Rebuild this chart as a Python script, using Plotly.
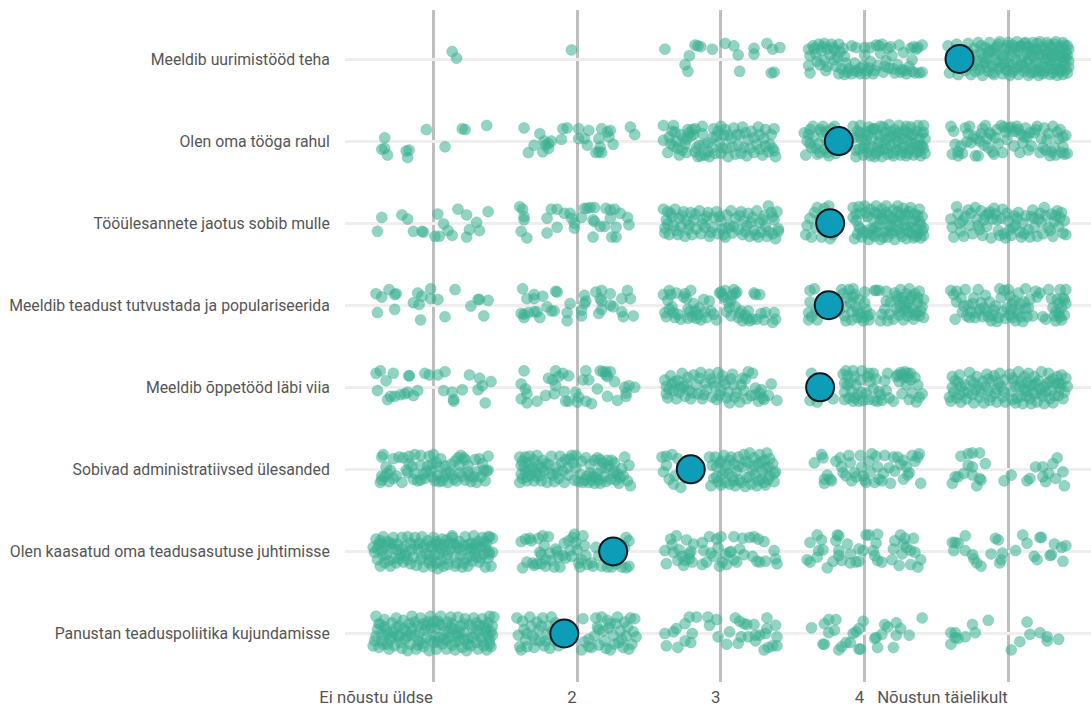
import plotly.graph_objects as go

labels = ["Panustan teaduspoliitika kujundamisse", "Olen kaasatud oma teadusasutuse juhtimisse",
          "Sobivad administratiivsed ülesanded", "Meeldib õppetööd läbi viia",
          "Meeldib teadust tutvustada ja populariseerida", "Tööülesannete jaotus sobib mulle",
          "Olen oma tööga rahul", "Meeldib uurimistööd teha"]
scale_labels = ["Ei nõustu üldse", "2", "3", "4", "Nõustun täielikult"]
means = [1.91, 2.25, 2.79, 3.69, 3.75, 3.76, 3.82, 4.66]

# Each answer: (offset from the scale value, offset from the row), in hundredths
r8c1 = [(13,9),(16,1)]
r8c2 = [(-4,11)]
r8c3 = [(-39,12),(-18,17),(-16,16),(-14,15),(-22,4),(-25,-7),(-23,-15),(-6,12),(3,19),(9,16),(12,5),(23,13),(23,6),(32,19),(36,12),(41,14),(13,-15),(35,-17),(37,-16)]
r8c4 = [(-39,12),(-38,4),(-39,-8),(-38,-17),(-36,16),(-34,6),(-33,-3),(-32,18),(-30,10),(-28,-2),(-28,19),(-26,12),(-26,-9),(-24,5),(-23,18),(-21,-1),(-21,11),(-20,-9),(-18,-18),(-18,18),(-17,9),(-16,-12),(-14,3),(-14,-19),(-13,-5),(-11,-12),(-9,-18),(-9,16),(-7,-5),(-6,14),(-5,-15),(-3,-18),(-1,-8),(0,14),(0,5),(1,-18),(3,-11),(4,14),(4,-3),(6,-18),(8,17),(9,-8),(11,7),(12,18),(13,-16),(15,-2),(17,-11),(18,15),(19,4),(21,-17),(23,-7),(24,17),(26,-13),(27,8),(29,-18),(31,-9),(32,13),(34,15),(35,-17),(37,14),(38,-17),(40,17),(40,-16),(33,-1),(-35,13),(-31,-7),(-29,15),(-27,-14),(-22,14),(-19,2),(-15,13),(-12,-16),(-7,-14),(-3,-11),(2,-14),(7,-14),(10,16),(14,-9),(16,13),(20,-12),(25,-16),(28,-14),(33,-15),(36,12)]
r8c5 = [(-42,16),(-41,-17),(-40,6),(-38,-9),(-36,18),(-35,-19),(-33,-4),(-31,11),(-30,-14),(-28,19),(-27,2),(-26,-19),(-25,-8),(-24,13),(-22,-2),(-21,20),(-20,-13),(-19,7),(-18,-20),(-17,-6),(-16,14),(-15,1),(-14,-15),(-13,20),(-12,9),(-11,-8),(-10,-19),(-9,-1),(-8,15),(-7,-12),(-6,21),(-5,5),(-4,-18),(-3,-6),(-2,13),(-1,-14),(0,20),(1,11),(1,-20),(2,-7),(3,17),(4,-13),(5,-1),(6,21),(7,10),(7,-19),(8,-8),(9,16),(10,2),(11,-15),(12,20),(13,8),(13,-4),(14,-20),(15,14),(16,-10),(17,20),(18,3),(18,-16),(19,-4),(20,12),(21,-20),(22,21),(23,-9),(23,5),(24,15),(25,-15),(26,-1),(27,20),(28,9),(29,-19),(30,-7),(30,15),(31,2),(32,-13),(33,21),(34,9),(34,-20),(35,-4),(36,15),(37,-13),(37,3),(38,20),(38,-19),(39,-7),(40,9),(41,16),(41,-17),(42,-2),(42,-10),(-23,-15),(-19,16),(-17,2),(-15,-10),(-13,11),(-11,-17),(-9,7),(-7,18),(-5,-9),(-3,4),(-1,16),(0,-5),(3,-16),(4,8),(6,-11),(8,15),(9,-2),(11,19),(12,-11),(14,0),(15,9),(16,-17),(17,12),(19,-13),(20,19),(21,-5),(22,6),(24,-18),(25,11),(26,-10),(27,2),(28,17),(29,-12),(30,6),(31,-17),(32,18),(33,-6),(35,5),(36,-15),(37,12),(38,-3),(39,17),(40,-13),(41,5),(42,12),(40,1),(-28,9),(-23,5),(-21,-8),(-16,-4),(-14,8),(-10,12),(-8,-5),(-4,1),(-2,-12),(2,4),(5,14),(10,-9),(13,15),(16,5),(19,9),(22,-14),(26,6),(29,-2),(32,7),(35,-12),(39,2)]
r7c1 = [(-34,4),(-36,-10),(-34,-9),(-32,-17),(-18,-20),(-19,-12),(-17,-11),(-5,14),(8,-7),(20,15),(22,14),(37,19)]
r7c2 = [(-37,16),(-26,9),(-30,-5),(-34,-14),(-23,0),(-18,0),(-22,-5),(-20,-3),(-24,-13),(-20,-9),(-11,2),(-10,15),(-7,16),(1,15),(1,3),(8,13),(5,3),(7,-5),(13,-14),(15,3),(17,15),(16,-7),(15,-13),(17,-14),(21,11),(23,13),(22,5),(25,-4),(37,17),(40,8)]
r7c3 = [(-40,19),(-40,1),(-37,-14),(-36,5),(-34,12),(-33,-6),(-33,19),(-31,0),(-30,-9),(-29,-17),(-28,8),(-26,3),(-25,-4),(-24,-14),(-23,14),(-22,10),(-21,6),(-20,14),(-19,8),(-18,-13),(-18,15),(-16,-19),(-15,-5),(-14,-18),(-13,18),(-12,-4),(-11,-17),(-9,-2),(-8,-19),(-6,-8),(-5,15),(-4,-15),(-3,6),(-1,-2),(0,18),(0,-15),(2,7),(3,14),(4,-9),(5,-19),(7,3),(9,16),(10,-16),(12,-5),(13,8),(15,17),(16,-8),(18,-18),(19,2),(21,12),(23,-14),(25,-4),(26,17),(27,8),(29,-17),(30,3),(31,14),(33,-13),(34,-4),(36,-9),(37,15),(37,-12),(38,-19),(-35,-3),(-32,11),(-27,-11),(-24,2),(-17,-8),(-13,9),(-9,-13),(-6,4),(-2,12),(1,-8),(5,7),(8,-7),(11,8),(14,-15),(17,10),(20,-9),(23,4),(27,-10),(31,-6),(35,8)]
r7c4 = [(-42,10),(-41,-17),(-40,0),(-38,14),(-37,-8),(-36,18),(-35,5),(-33,-16),(-32,-3),(-30,11),(-29,18),(-28,-10),(-27,2),(-25,-18),(-24,-6),(-23,15),(-22,8),(-20,-15),(-8,18),(-6,-19),(-5,12),(-4,-10),(-3,19),(-2,2),(-1,-17),(0,-4),(1,11),(2,-14),(3,17),(4,-18),(5,3),(6,-7),(7,15),(8,-15),(9,8),(10,-2),(11,18),(12,-19),(13,-10),(14,11),(15,2),(16,-16),(17,20),(18,-5),(19,7),(20,-18),(21,14),(22,-11),(23,0),(24,19),(25,-17),(26,8),(27,-6),(28,13),(29,-18),(30,1),(31,-11),(32,17),(33,7),(34,-17),(35,-3),(36,12),(37,19),(38,-12),(38,3),(39,-18),(40,9),(40,-6),(41,19),(42,-15),(42,3),(-39,8),(-34,-9),(-31,14),(-26,-14),(-21,18),(-7,4),(-6,-11),(-3,10),(-1,-8),(1,2),(3,-9),(5,14),(7,-19),(9,-8),(11,5),(13,17),(15,-9),(17,5),(19,-15),(21,-3),(23,10),(25,-9),(27,3),(29,18),(30,-15),(32,-3),(34,8),(36,-14),(39,-5),(41,11),(41,-9),(-38,-3),(-31,-14),(-27,12),(-4,6),(2,7),(6,15),(10,-12),(14,-3),(18,12),(22,6),(26,-13),(30,10),(33,-9),(37,-6)]
r7c5 = [(-40,18),(-39,-16),(-38,12),(-37,-4),(-35,-13),(-35,-18),(-33,-6),(-32,-15),(-30,16),(-28,9),(-27,18),(-26,-2),(-24,6),(-23,-18),(-21,-18),(-20,0),(-19,9),(-18,15),(-16,19),(-15,3),(-14,-8),(-13,10),(-11,-13),(-10,-16),(-9,4),(-8,14),(-5,19),(-4,-14),(-3,17),(-1,2),(0,16),(2,17),(4,-6),(5,12),(6,18),(8,-14),(9,8),(10,-2),(12,16),(13,5),(14,-11),(16,-6),(18,10),(20,18),(22,-14),(23,3),(25,16),(26,-11),(28,9),(29,-18),(31,18),(32,-8),(33,-17),(35,3),(36,14),(37,-14),(38,-7),(39,-16),(40,7),(41,-15),(-29,-1),(-22,3),(-17,-5),(-12,8),(-7,-3),(-2,11),(3,12),(7,14),(11,5),(15,10),(19,14),(24,-8),(27,2),(30,-13),(34,11),(38,5)]
r6c1 = [(-36,7),(-39,-10),(-22,10),(-18,5),(-14,-10),(-8,-10),(-7,-11),(3,11),(1,-16),(4,-16),(7,-1),(10,-9),(13,-15),(17,17),(23,10),(23,-17),(25,-8),(30,1),(32,-9),(38,14)]
r6c2 = [(-40,20),(-38,17),(-37,8),(-37,4),(-39,-10),(-35,-18),(-21,6),(-21,-12),(-14,-5),(-18,17),(-14,17),(-9,12),(-5,12),(-4,6),(-2,0),(-2,-6),(3,7),(5,18),(7,18),(12,19),(11,4),(12,2),(11,-17),(19,-4),(20,18),(23,16),(26,17),(30,12),(23,6),(24,-17),(27,-17),(27,-5),(35,7),(36,-2),(16,-4),(9,19)]
r6c3 = [(-40,17),(-39,-6),(-39,-12),(-38,4),(-37,14),(-36,-14),(-34,8),(-33,-3),(-32,17),(-30,-14),(-29,6),(-28,-4),(-26,14),(-25,-16),(-24,3),(-23,-8),(-21,13),(-20,-14),(-19,4),(-17,-7),(-15,15),(-14,-13),(-12,5),(-11,-5),(-9,13),(-8,-16),(-6,-5),(-5,7),(-3,14),(-2,-13),(0,3),(1,-7),(3,-17),(4,10),(6,-3),(7,15),(8,-12),(10,6),(12,-8),(14,14),(15,-14),(16,3),(18,-3),(19,12),(20,-16),(22,7),(23,-9),(25,15),(26,-17),(27,1),(28,-11),(30,9),(31,-4),(32,-16),(33,21),(35,13),(36,-13),(37,4),(38,-19),(39,14),(40,-7),(40,-10),(-37,-1),(-35,12),(-31,-9),(-27,9),(-22,-2),(-18,11),(-13,-1),(-10,8),(-7,-11),(-1,8),(2,-14),(5,-6),(9,-4),(13,9),(17,-10),(21,1),(24,-14),(29,4),(33,-10),(36,8)]
r6c4 = [(-41,-14),(-40,-3),(-38,6),(-37,-17),(-35,13),(-34,-5),(-33,19),(-31,6),(-30,-17),(-28,18),(-27,-9),(-25,21),(-24,-19),(-22,-14),(-8,19),(-7,-19),(-6,11),(-5,-13),(-4,20),(-3,-7),(-2,-17),(0,21),(1,13),(2,-12),(3,-20),(4,17),(5,6),(6,-7),(7,-16),(8,21),(9,11),(10,-2),(11,-20),(12,17),(13,5),(14,-11),(15,21),(16,-17),(17,9),(18,-4),(19,-12),(20,16),(21,-20),(22,3),(23,21),(24,-8),(25,10),(26,-16),(27,18),(28,-3),(29,-19),(30,10),(31,-11),(32,19),(33,1),(34,-18),(35,11),(36,-7),(37,-13),(38,17),(38,2),(39,-18),(40,-9),(41,-15),(41,-6),(-6,3),(-4,-4),(-1,-11),(2,8),(5,-14),(7,13),(9,-11),(11,5),(13,-17),(15,13),(17,-9),(19,4),(21,-9),(23,14),(25,-12),(27,4),(29,-7),(31,14),(33,-13),(35,4),(37,9),(39,-2),(-8,7),(-3,12),(4,-7),(8,-5),(12,10),(16,-3),(20,7),(24,1),(28,11),(32,-5),(36,-16),(40,8)]
r6c5 = [(-40,5),(-39,-5),(-38,-17),(-36,20),(-35,11),(-34,0),(-33,-10),(-31,-16),(-30,8),(-28,16),(-27,-3),(-25,-13),(-23,19),(-22,5),(-20,-8),(-19,15),(-18,-15),(-16,9),(-15,-4),(-13,14),(-12,-18),(-11,5),(-10,18),(-9,11),(-7,-9),(-5,6),(-4,17),(-3,-13),(-2,-18),(0,3),(1,-8),(2,-15),(4,9),(5,-3),(7,13),(8,-11),(9,-17),(10,0),(12,9),(14,-8),(15,-17),(17,16),(18,6),(18,-5),(20,-16),(22,12),(23,1),(24,-13),(25,19),(28,-5),(30,11),(31,-16),(33,9),(34,15),(35,-4),(37,13),(38,-12),(39,3),(40,-14),(-32,3),(-26,12),(-21,-3),(-17,4),(-14,11),(-8,4),(-6,-15),(-1,12),(3,-5),(6,6),(11,-13),(16,8),(21,5),(26,9),(29,-9),(32,2),(36,7)]
r5c1 = [(-40,14),(-36,10),(-31,19),(-27,13),(-26,14),(-39,-9),(-27,-5),(-11,15),(-8,11),(-14,3),(-10,1),(-9,-18),(-2,20),(-2,8),(3,7),(8,-14),(15,19),(26,-1),(31,7),(32,7),(38,6),(35,-13)]
r5c2 = [(-38,20),(-35,8),(-30,13),(-30,8),(-24,11),(-15,17),(-14,16),(-39,-10),(-37,-11),(-37,-15),(-34,-9),(-30,-8),(-28,-8),(-26,-15),(-21,-2),(-18,-7),(-16,-7),(-5,2),(-7,-9),(-7,-19),(3,-13),(3,-6),(5,2),(5,12),(6,5),(13,16),(17,18),(16,8),(17,5),(23,14),(15,-10),(17,-5),(23,0),(25,-2),(31,8),(31,-8),(35,18),(37,8),(32,-14),(39,-13)]
r5c3 = [(-40,13),(-39,-9),(-38,-14),(-37,6),(-36,18),(-35,13),(-34,-2),(-33,-9),(-32,-15),(-31,15),(-28,-17),(-25,14),(-24,8),(-23,-16),(-22,-8),(-21,18),(-20,-14),(-19,2),(-18,-7),(-17,-16),(-15,-3),(-14,-18),(-12,7),(-10,-15),(-8,5),(-7,-7),(-5,-11),(-3,-18),(-1,15),(0,16),(2,10),(3,18),(5,4),(6,-3),(7,-13),(8,12),(9,19),(10,-2),(11,16),(12,-15),(14,-7),(15,-19),(17,-12),(19,-7),(20,-19),(23,15),(24,13),(25,-17),(27,13),(30,-18),(31,-9),(36,-21),(37,-9),(38,-17),(-36,-5),(-30,-11),(-26,10),(-23,-5),(-16,-11),(-11,-8),(1,13),(4,-8),(7,6),(10,14),(13,-10),(18,-16),(22,-17),(28,-10)]
r5c4 = [(-38,18),(-39,-9),(-39,-18),(-38,4),(-37,-14),(-35,20),(-34,-7),(-33,-18),(-18,-7),(-16,19),(-15,14),(-14,-13),(-13,-19),(-12,9),(-11,19),(-10,3),(-9,-8),(-9,-18),(-8,20),(-7,13),(-6,-2),(-5,-15),(-4,7),(-3,-10),(-1,-19),(0,16),(1,-5),(3,-18),(4,-11),(7,18),(8,18),(10,18),(11,-19),(12,-11),(14,-5),(15,5),(15,17),(16,-19),(17,-11),(18,4),(20,-17),(21,15),(22,-4),(23,7),(24,-12),(25,19),(25,0),(26,9),(27,-18),(28,-6),(29,14),(30,2),(30,-13),(31,20),(32,8),(33,-3),(34,-17),(35,14),(36,-9),(37,3),(38,-13),(38,17),(40,-2),(41,-15),(41,7),(-13,-2),(-8,10),(-5,-7),(-2,-15),(0,3),(2,-13),(22,11),(24,-7),(27,5),(29,-3),(31,-8),(33,11),(35,-12),(37,9),(39,-7)]
r5c5 = [(-40,18),(-38,13),(-36,17),(-36,4),(-37,-17),(-33,9),(-32,-8),(-30,19),(-29,-13),(-28,0),(-26,-8),(-24,9),(-23,-15),(-21,19),(-20,-5),(-19,3),(-18,-14),(-16,12),(-15,-8),(-13,4),(-12,-19),(-11,-12),(-9,-1),(-8,-20),(-6,20),(-5,9),(-4,-8),(-3,18),(-2,-16),(0,19),(1,11),(2,-5),(3,-15),(4,6),(5,-19),(6,-10),(7,15),(8,2),(9,-14),(10,-20),(11,4),(12,20),(14,-3),(15,7),(17,-13),(19,17),(20,10),(22,15),(24,-14),(26,-17),(28,19),(30,8),(31,-3),(32,-13),(33,-19),(34,7),(35,-9),(36,19),(37,-3),(37,-18),(38,9),(39,-12),(40,2),(40,19),(-31,-1),(-27,-15),(-25,2),(-22,-9),(-17,-3),(-14,-14),(-10,-6),(-7,-15),(-1,-3),(1,-12),(3,2),(7,-6),(12,-4),(13,-14),(33,-8),(35,2),(36,-14),(39,7)]
r4c1 = [(-40,17),(-37,20),(-28,17),(-17,14),(-17,14),(-33,8),(-39,-4),(-32,-15),(-30,-11),(-27,-11),(-23,-9),(-20,-8),(-18,-6),(-14,-10),(-11,-4),(-6,17),(-3,15),(3,15),(8,19),(7,-4),(13,-6),(14,-17),(20,-3),(25,15),(32,11),(31,-3),(34,2),(40,7),(36,-19),(14,-15)]
r4c2 = [(-37,20),(-39,4),(-36,-2),(-35,-8),(-39,-14),(-35,-19),(-28,-17),(-22,-10),(-20,11),(-15,20),(-17,9),(-15,2),(-16,-8),(-10,17),(-6,14),(-9,-5),(-8,-17),(-6,-17),(-1,-6),(0,-18),(1,-12),(6,-17),(10,-20),(6,20),(4,9),(8,9),(14,-2),(16,20),(18,19),(20,19),(23,19),(20,15),(21,13),(26,7),(21,-11),(28,-16),(34,-11),(33,0),(36,2),(40,0),(-13,13),(34,-7)]
r4c3 = [(-39,9),(-38,1),(-38,-8),(-37,-13),(-35,14),(-34,4),(-33,-4),(-31,-14),(-30,8),(-29,-6),(-27,17),(-26,1),(-25,-11),(-23,12),(-22,-4),(-21,-14),(-19,15),(-17,3),(-16,-8),(-14,18),(-13,-14),(-11,5),(-10,-3),(-8,16),(-6,-12),(-5,6),(-3,-15),(-2,18),(0,-4),(1,14),(3,4),(4,-13),(6,-19),(8,16),(9,3),(11,-7),(13,-18),(15,11),(16,-4),(18,-14),(19,19),(21,-10),(22,17),(24,-1),(24,-9),(26,-17),(27,-7),(28,-3),(29,-13),(30,-15),(35,4),(39,-16),(33,-10),(-36,-2),(-32,7),(-28,-1),(-24,4),(-20,-7),(-15,11),(-12,-9),(-7,10),(-4,1),(-1,-10),(2,8),(5,-6),(7,10),(10,-12),(14,3),(17,10)]
r4c4 = [(-37,17),(-38,-16),(-35,-6),(-33,-18),(-22,-14),(-15,16),(-14,-15),(-13,20),(-14,5),(-14,-6),(-12,14),(-11,-13),(-10,6),(-9,-5),(-8,20),(-8,-17),(-7,13),(-6,3),(-5,-9),(-4,-17),(-3,9),(-2,20),(-1,-16),(1,-7),(2,13),(3,-15),(4,7),(6,-2),(6,17),(7,-16),(8,10),(9,-17),(11,-9),(12,-16),(14,8),(15,-4),(16,17),(17,-13),(20,-17),(23,15),(24,7),(25,18),(26,-8),(27,12),(28,19),(29,3),(30,12),(31,-15),(32,17),(33,-7),(35,12),(36,-18),(37,3),(38,-12),(40,-8),(-12,3),(-7,-13),(-2,-6),(3,17),(10,-5),(22,13),(26,15),(30,17),(32,9)]
r4c5 = [(-41,-12),(-40,-17),(-39,13),(-39,0),(-38,-6),(-36,-13),(-35,6),(-34,15),(-33,-18),(-31,-5),(-30,3),(-29,-14),(-27,18),(-26,8),(-25,-9),(-24,-19),(-22,13),(-21,1),(-20,-12),(-18,7),(-17,-19),(-15,16),(-14,-4),(-13,-16),(-11,8),(-10,14),(-9,-7),(-8,-18),(-6,17),(-5,1),(-4,-12),(-3,9),(-2,-18),(1,16),(2,-5),(3,-15),(4,8),(5,-19),(7,19),(8,1),(9,-11),(10,-20),(11,13),(12,-5),(13,6),(14,17),(15,-14),(16,-20),(17,3),(18,13),(19,-8),(20,-18),(21,8),(22,-2),(23,19),(24,-11),(25,-20),(27,5),(28,17),(29,-14),(30,-4),(31,-19),(33,4),(34,13),(35,-10),(36,-1),(37,15),(38,-14),(39,-6),(40,11),(41,1),(-37,8),(-33,1),(-28,-7),(-24,5),(-19,-6),(-16,1),(-12,-11),(-7,5),(-3,-5),(5,1),(6,-13),(9,7),(13,-11),(15,2),(19,5),(23,-7),(26,-5),(29,7),(32,-10),(37,4),(-34,-9),(-23,-3),(-14,10),(-8,-2),(3,11),(11,-2),(17,-7),(25,1),(31,10),(35,5)]
r3c1 = [(-36,15),(-35,18),(-36,-8),(-37,-16),(-36,-13),(-33,3),(-32,-5),(-31,-15),(-28,13),(-26,-8),(-24,15),(-22,-16),(-21,14),(-19,-1),(-18,-4),(-17,16),(-15,4),(-14,-12),(-13,18),(-11,-14),(-9,5),(-9,17),(-7,-6),(-6,-11),(-4,4),(-3,16),(-2,-2),(-1,-9),(0,18),(2,8),(3,-7),(4,-15),(5,13),(6,-14),(8,4),(9,-5),(10,-16),(12,6),(13,-7),(15,10),(16,-14),(17,14),(18,-4),(19,17),(20,-8),(21,14),(22,12),(22,-13),(24,5),(25,-8),(26,-15),(29,12),(30,-3),(30,-16),(32,13),(33,-9),(35,-1),(36,-14),(38,16),(38,-1),(37,-2),(-34,-9),(-30,-1),(-28,-11),(-17,7),(-13,-5),(-9,-13),(-5,-3),(-1,6),(1,-14),(4,3),(7,-9),(11,-3),(14,-12),(18,5),(24,-3),(28,-9),(34,7)]
r3c2 = [(-40,15),(-40,-16),(-39,5),(-39,-6),(-38,10),(-38,-11),(-36,15),(-36,-3),(-35,-14),(-34,8),(-33,16),(-32,-7),(-31,3),(-30,-14),(-29,-3),(-28,17),(-27,5),(-26,-7),(-25,-14),(-24,11),(-23,-2),(-21,-16),(-20,6),(-18,16),(-17,-7),(-16,-15),(-15,3),(-13,-11),(-12,16),(-11,8),(-9,-16),(-8,12),(-7,2),(-6,-7),(-4,17),(-3,8),(-2,-13),(-1,17),(1,-15),(2,-6),(4,-16),(6,14),(7,-8),(8,-16),(9,-4),(10,-13),(11,-8),(12,-17),(14,-5),(14,14),(15,-13),(17,2),(18,8),(19,-9),(20,-15),(22,4),(24,11),(25,-5),(27,-13),(29,-17),(31,1),(32,-8),(33,15),(35,-14),(36,5),(37,-20),(30,-10),(-37,3),(-35,-9),(-33,-1),(-30,11),(-28,-9),(-25,2),(-22,7),(-19,-5),(-14,-4),(-10,-2),(-5,13),(-1,2),(3,10),(5,-13),(13,-10),(16,-17),(20,2),(23,-12),(26,-2),(28,-6),(9,6),(12,11),(16,12),(21,11),(26,8)]
r3c3 = [(-41,15),(-40,-3),(-38,5),(-38,16),(-36,-12),(-34,18),(-33,-18),(-32,-8),(-30,13),(-28,-22),(-27,-3),(-8,15),(-7,-20),(-6,5),(-5,-11),(-4,15),(-3,3),(-2,-15),(-1,8),(0,-19),(1,-6),(2,17),(3,-16),(4,5),(5,-5),(6,-18),(7,15),(8,-9),(9,7),(10,-20),(11,-2),(12,15),(13,-13),(15,3),(16,18),(17,-21),(18,-10),(19,8),(20,20),(21,-18),(22,-1),(23,14),(24,-6),(25,-20),(26,7),(27,18),(28,-12),(29,-2),(30,11),(31,-19),(32,20),(33,3),(34,-8),(34,13),(36,7),(37,-5),(38,-3),(37,-15),(30,-16),(-3,-9),(0,10),(3,-2),(6,11),(9,-14),(12,4),(14,-16),(17,10),(20,-9),(23,4),(26,-14),(28,9),(31,1),(33,-12)]
r3c4 = [(-35,8),(-30,18),(-29,14),(-28,-12),(-28,-17),(-26,-7),(-24,-12),(-23,-14),(-20,10),(-17,14),(-16,3),(-15,-4),(-13,-8),(-11,17),(-10,8),(-9,-14),(-7,-4),(-6,-9),(-3,17),(-2,3),(-1,-8),(0,-13),(1,-16),(3,10),(4,-3),(5,19),(7,-16),(8,16),(9,3),(10,-12),(12,-14),(13,-5),(14,17),(17,2),(18,-17),(20,15),(21,-2),(23,15),(25,6),(27,11),(29,3),(30,-7),(31,-4),(33,17),(35,10),(37,15),(38,19),(39,-17),(27,-12)]
r3c5 = [(-33,16),(-28,19),(-25,20),(-20,20),(-16,7),(-28,5),(-25,3),(-31,-5),(-37,-9),(-39,-17),(-35,-9),(-25,-7),(-20,-11),(-22,-20),(-19,-13),(-3,-14),(2,-7),(13,-14),(15,-11),(19,3),(24,3),(34,14),(31,7),(28,-5),(24,-9),(26,-15),(33,-11),(38,-3),(39,-20)]
r2c1 = [(-42,5),(-41,-1),(-40,15),(-39,-10),(-38,9),(-37,-18),(-36,1),(-35,18),(-34,-14),(-33,-4),(-32,12),(-30,-18),(-29,4),(-28,17),(-27,-8),(-26,-14),(-25,9),(-23,-3),(-22,17),(-21,-13),(-20,6),(-19,-2),(-18,18),(-16,-15),(-15,2),(-14,-7),(-13,17),(-12,-17),(-10,10),(-9,-10),(-8,18),(-7,-19),(-5,-3),(-4,13),(-3,-14),(-2,6),(-1,-18),(0,17),(1,-4),(2,-14),(3,-21),(4,9),(5,-11),(6,15),(7,-18),(8,1),(9,-9),(10,-3),(11,10),(13,17),(13,19),(14,9),(15,-18),(16,-14),(17,4),(19,-5),(20,-19),(21,7),(22,18),(23,-9),(24,-18),(25,3),(26,10),(27,-12),(28,19),(29,-1),(30,-7),(31,12),(32,-13),(33,6),(34,17),(35,-3),(36,-19),(37,10),(38,-8),(39,-3),(39,18),(40,-18),(41,-1),(41,16),(38,18),(-39,3),(-37,13),(-35,-5),(-33,7),(-31,-11),(-28,9),(-24,-9),(-22,3),(-18,-10),(-16,10),(-11,3),(-8,-6),(-6,8),(-3,-5),(0,5),(2,12),(4,-3),(7,8),(10,-16),(12,3),(15,-6),(18,12),(21,-14),(24,8),(27,3),(30,5),(33,-8),(36,5),(38,0),(-36,9),(-30,10),(-26,2),(-20,-5),(-13,8),(-7,5),(-2,-11),(1,9),(5,3),(9,14),(16,8),(20,2),(26,-6),(29,9),(35,12)]
r2c2 = [(-39,12),(-38,-20),(-36,15),(-35,-13),(-33,16),(-32,13),(-31,-14),(-30,-17),(-28,-15),(-27,16),(-26,-1),(-25,-4),(-25,-15),(-24,19),(-23,7),(-22,-10),(-22,-18),(-20,18),(-19,-2),(-18,-11),(-16,-19),(-15,3),(-14,0),(-13,-7),(-12,-19),(-10,-5),(-9,10),(-8,-8),(-6,13),(-5,1),(-4,-6),(-3,17),(-2,21),(-1,11),(0,2),(1,-14),(2,-19),(3,-10),(4,19),(5,7),(6,-5),(7,-16),(10,-14),(11,-18),(13,5),(15,-5),(17,-18),(21,-19),(24,-19),(27,-15),(34,17),(36,13),(34,-20),(36,-18),(33,5),(31,-19)]
r2c3 = [(-39,1),(-38,-15),(-35,15),(-34,8),(-33,-1),(-31,19),(-30,-11),(-29,2),(-27,-6),(-26,-17),(-25,-11),(-24,14),(-22,-9),(-22,-3),(-21,0),(-20,-13),(-19,9),(-13,11),(-13,-16),(-12,1),(-10,-13),(-8,18),(-7,-2),(-5,-6),(-3,15),(-2,5),(-1,-18),(0,18),(1,-13),(3,-3),(4,-16),(6,-1),(7,0),(9,-10),(9,18),(11,-13),(13,3),(15,16),(16,-4),(20,17),(22,-6),(23,18),(25,-12),(26,15),(27,-13),(31,-12),(30,12),(37,1),(38,-9),(39,-15)]
r2c4 = [(-38,11),(-33,20),(-30,14),(-19,20),(-18,19),(-20,13),(-12,9),(-40,-10),(-38,-13),(-33,-7),(-32,1),(-29,2),(-26,-20),(-22,-12),(-18,1),(-18,-5),(-16,-11),(-10,-3),(-10,-14),(-6,-13),(-4,-12),(-4,3),(1,20),(3,20),(9,21),(8,10),(-1,1),(6,1),(7,-5),(9,-11),(12,-13),(19,-10),(20,3),(21,13),(25,20),(34,16),(28,16),(27,9),(29,5),(32,1),(26,-3),(24,-17),(32,-16),(37,-19),(39,-10),(35,-1)]
r2c5 = [(-39,11),(-37,11),(-35,10),(-30,19),(-38,1),(-30,1),(-25,-4),(-24,-9),(-22,-14),(-19,-18),(-9,16),(-7,14),(-12,-3),(-4,-2),(-5,-10),(-6,-14),(5,1),(10,20),(13,10),(18,-6),(20,-10),(22,17),(23,17),(29,-5),(30,-4),(32,9),(37,5),(40,7),(38,-12)]
r1c1 = [(-42,-15),(-41,-9),(-40,21),(-40,-3),(-39,5),(-38,-17),(-37,11),(-36,-1),(-35,-13),(-34,17),(-33,4),(-31,-19),(-30,-7),(-29,13),(-28,1),(-27,-15),(-26,19),(-25,-3),(-24,9),(-22,-18),(-21,16),(-20,-7),(-19,3),(-18,-21),(-17,12),(-16,-13),(-15,21),(-13,-2),(-12,-19),(-11,9),(-10,-9),(-9,19),(-7,-16),(-6,4),(-5,-5),(-4,14),(-3,-21),(-2,21),(0,-11),(1,6),(2,-19),(3,15),(4,-5),(5,21),(6,-13),(8,3),(9,-19),(10,14),(11,-5),(12,20),(13,-14),(14,6),(15,-20),(17,20),(18,-9),(19,9),(20,-17),(21,1),(22,18),(23,-21),(24,-6),(25,11),(26,-15),(28,19),(29,0),(30,-11),(31,-19),(32,10),(33,-5),(34,18),(35,-15),(36,3),(37,-20),(38,13),(39,-8),(39,21),(40,2),(40,-16),(41,9),(41,-2),(42,20),(-2,7),(27,7),(16,0),(7,-7),(-38,12),(-36,-9),(-34,8),(-32,-13),(-29,-4),(-26,7),(-23,-11),(-21,6),(-18,-3),(-15,7),(-13,14),(-10,1),(-8,-12),(-5,9),(-2,-8),(0,15),(3,-10),(6,10),(9,-8),(12,7),(15,-10),(18,2),(21,12),(24,-13),(27,-5),(31,3),(34,-9),(37,6),(39,-13),(-32,0),(-24,-4),(-16,-2),(-11,-14),(-7,12),(1,-3),(4,11),(10,1),(13,12),(17,-3),(22,-8),(30,13),(35,9),(38,-3)]
r1c2 = [(-42,19),(-41,-2),(-40,-16),(-39,-20),(-38,15),(-37,5),(-36,-8),(-35,-16),(-33,20),(-32,9),(-31,-3),(-30,-17),(-28,14),(-27,4),(-26,-9),(-24,19),(-23,-15),(-21,-1),(-20,9),(-19,-18),(-18,20),(-16,-9),(-15,13),(-13,-15),(-12,3),(4,18),(3,-20),(5,-10),(8,-7),(8,-16),(10,-17),(12,-3),(13,19),(14,8),(15,-14),(17,20),(18,3),(19,-9),(20,-18),(21,16),(22,7),(23,-20),(25,-2),(26,-13),(27,12),(28,20),(30,3),(31,-7),(32,-17),(33,14),(34,-3),(36,-19),(37,19),(38,-13),(39,2),(40,18),(41,-4),(-35,0),(-29,-8),(-25,9),(-22,-9),(-17,3),(15,5),(23,12),(29,-11),(35,8)]
r1c3 = [(-39,0),(-38,-15),(-31,6),(-33,2),(-30,-17),(-25,12),(-20,0),(-21,-11),(-17,20),(-22,20),(-25,-9),(-9,20),(-8,10),(-3,17),(-2,-4),(4,-13),(6,2),(12,-12),(10,19),(13,15),(16,12),(18,11),(23,11),(14,-4),(19,-4),(24,-9),(24,-2),(27,-2),(31,0),(32,19),(32,6),(38,10),(39,-4),(30,-20),(33,-17),(36,-15),(39,-15)]
r1c4 = [(-37,7),(-28,12),(-25,17),(-20,17),(-21,4),(-25,1),(-29,-13),(-28,-13),(-18,-20),(-16,-16),(-13,-11),(-10,-11),(-8,0),(-6,2),(-4,6),(-1,15),(-4,-19),(-3,-19),(7,-6),(8,-5),(9,-17),(12,-1),(14,11),(16,8),(22,13),(25,6),(22,-2),(20,-17),(31,-2),(40,19)]
r1c5 = [(-40,1),(-37,1),(-37,-5),(-35,-6),(-40,-13),(-30,-4),(-25,11),(-23,1),(-14,16),(13,14),(15,-1),(22,1),(27,-4),(27,-9),(35,-7),(8,-10),(2,-20)]

rows = {
    1: [r1c1, r1c2, r1c3, r1c4, r1c5], 2: [r2c1, r2c2, r2c3, r2c4, r2c5],
    3: [r3c1, r3c2, r3c3, r3c4, r3c5], 4: [r4c1, r4c2, r4c3, r4c4, r4c5],
    5: [r5c1, r5c2, r5c3, r5c4, r5c5], 6: [r6c1, r6c2, r6c3, r6c4, r6c5],
    7: [r7c1, r7c2, r7c3, r7c4, r7c5], 8: [r8c1, r8c2, r8c3, r8c4, r8c5],
}

xs, ys = [], []
for row, cells in rows.items():
    for i, cell in enumerate(cells):
        for dx, dy in cell:
            xs.append(i + 1 + dx / 100)
            ys.append(row + dy / 100)

fig = go.Figure()
fig.add_trace(go.Scatter(x=xs, y=ys, mode="markers", showlegend=False,
    marker=dict(size=11, color="rgba(58,174,146,0.55)", line=dict(width=1, color="rgba(58,174,146,0.3)"))))
fig.add_trace(go.Scatter(x=means, y=list(range(1, 9)), mode="markers", showlegend=False,
    marker=dict(size=28, color="#0E9DB8", line=dict(width=2, color="#0B1A24"))))

font = "Roboto, sans-serif"
fig.update_layout(
    width=1091, height=713, margin=dict(l=345, r=0, t=10, b=31),
    plot_bgcolor="white", paper_bgcolor="white",
    font=dict(family=font, size=15.8, color="#555555"),
    xaxis=dict(range=[0.384, 5.575], tickvals=[1, 2, 3, 4, 5], ticktext=scale_labels,
               ticklabelposition="outside left", showgrid=True, gridcolor="#BEBEBE", gridwidth=2.5,
               zeroline=False, ticks="outside", ticklen=8, tickcolor="rgba(0,0,0,0)", showline=False,
               tickfont=dict(size=16.8)),
    yaxis=dict(range=[0.409, 8.597], tickvals=list(range(1, 9)), ticktext=labels,
               showgrid=True, gridcolor="#EEEEEE", gridwidth=2.5, zeroline=False,
               ticks="outside", ticklen=11, tickcolor="rgba(0,0,0,0)", showline=False),
)
fig.write_html("out.html", config=dict(displayModeBar=False), post_script="document.body.style.margin='0';")
